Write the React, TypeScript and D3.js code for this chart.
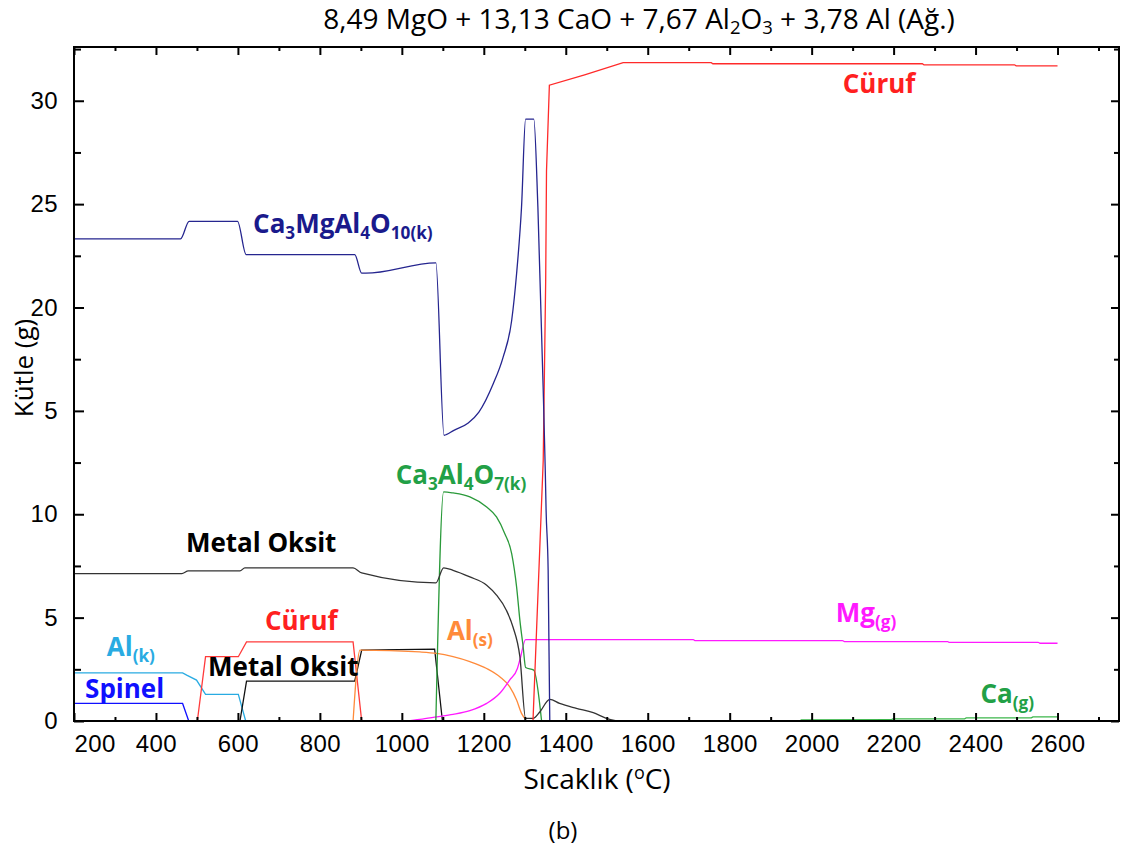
import { useEffect, useRef } from "react";
import * as d3 from "d3";

type Pt = [number, number];

// temperature (°C), mass (g)
const ca3mgal4o10: Pt[] = [
  [200, 23.32], [460, 23.32], [481, 24.17], [599, 24.17], [620, 22.56], [885, 22.56],
  [902, 21.66], [912, 21.66], [1083, 22.16], [1103, 13.82], [1127, 14.06], [1162, 14.41],
  [1188, 14.94], [1223, 16.31], [1247, 17.59], [1268, 19.37], [1280, 21.63], [1292, 24.84],
  [1302, 29.11], [1322, 29.11], [1332, 24.84], [1345, 15.99], [1350, 12.1], [1352, 10.2],
  [1357, 7.3], [1361, 0],
];
const spinel: Pt[] = [[200, 0.85], [465, 0.85], [480, 0]];
const alK: Pt[] = [[200, 2.33], [465, 2.33], [475, 2.22], [499, 1.98], [521, 1.29], [601, 1.29], [619, 0]];
const curufLow: Pt[] = [[501, 0], [521, 3.11], [601, 3.11], [621, 3.83], [881, 3.83], [902, 0]];
const curufHigh: Pt[] = [
  [1320, 0], [1345, 12.6], [1351, 21.3], [1353, 26.6], [1360, 30.75], [1446, 31.25],
  [1540, 31.84], [1755, 31.84], [1759, 31.79], [2270, 31.79], [2274, 31.74], [2495, 31.74],
  [2499, 31.69], [2600, 31.69],
];
const metalOksitHigh: Pt[] = [
  [200, 7.13], [463, 7.13], [479, 7.26], [605, 7.26], [617, 7.41], [881, 7.41], [902, 7.16],
  [1083, 6.68], [1102, 7.41], [1125, 7.29], [1166, 6.97], [1207, 6.57], [1231, 6.09],
  [1255, 5.36], [1271, 4.56], [1288, 3.11], [1302, 0.13], [1320, 0.13], [1337, 0.45],
  [1361, 1.05], [1385, 0.85], [1426, 0.61], [1467, 0.4], [1499, 0.13], [1524, 0],
];
const metalOksitLow: Pt[] = [[605, 0], [621, 1.93], [885, 1.93], [902, 3.43], [1080, 3.48], [1099, 0]];
const ca3al4o7: Pt[] = [
  [1083, 0], [1102, 11.08], [1125, 11.03], [1166, 10.84], [1207, 10.35], [1231, 9.87],
  [1251, 9.07], [1268, 8.1], [1280, 6.49], [1288, 4.88], [1296, 3.59], [1302, 2.59],
  [1322, 2.46], [1341, 0],
];
const alS: Pt[] = [
  [881, 0], [898, 3.43], [1044, 3.34], [1085, 3.27], [1125, 3.11], [1166, 2.87], [1207, 2.54],
  [1239, 2.14], [1263, 1.66], [1280, 1.01], [1292, 0.37], [1302, 0.08],
];
const mgG: Pt[] = [
  [1010, 0], [1044, 0.08], [1085, 0.2], [1125, 0.32], [1166, 0.5], [1207, 0.85], [1239, 1.34],
  [1263, 1.98], [1282, 2.54], [1288, 2.95], [1302, 3.94], [1711, 3.94], [1715, 3.89],
  [2075, 3.89], [2080, 3.84], [2332, 3.84], [2336, 3.8], [2553, 3.8], [2557, 3.76], [2600, 3.76],
];
const caG: Pt[] = [
  [1973, 0.05], [2194, 0.06], [2198, 0.1], [2373, 0.1], [2377, 0.15], [2536, 0.15],
  [2540, 0.2], [2600, 0.2],
];

const xTicks = d3.range(200, 2601, 200);
const xMinorTicks = d3.range(300, 2701, 200);
const yTicks = [0, 5, 10, 15, 20, 25, 30];
const yMinorTicks = [2.5, 7.5, 12.5, 17.5, 22.5, 27.5, 32.5];

const series = [
  { data: spinel, color: "#1010ff", smooth: false },
  { data: alK, color: "#29abe2", smooth: false },
  { data: curufLow, color: "#ff3b3b", smooth: false },
  { data: metalOksitLow, color: "#111111", smooth: false },
  { data: alS, color: "#ff8a3a", smooth: true },
  { data: mgG, color: "#ff1aff", smooth: true },
  { data: caG, color: "#3cb64b", smooth: false },
  { data: ca3al4o7, color: "#2a9a3a", smooth: true },
  { data: metalOksitHigh, color: "#333333", smooth: true },
  { data: curufHigh, color: "#ff2a2a", smooth: false },
  { data: ca3mgal4o10, color: "#25258f", smooth: true },
];

// label: parts [text, isSub], anchor temp, anchor mass
const labels = [
  { parts: [["Cüruf", false]], t: 2076, v: 30.38, color: "#ff2020" },
  { parts: [["Ca", false], ["3", true], ["MgAl", false], ["4", true], ["O", false], ["10(k)", true]], t: 637, v: 23.61, color: "#1a1a8c" },
  { parts: [["Metal Oksit", false]], t: 473, v: 8.18, color: "#000000" },
  { parts: [["Ca", false], ["3", true], ["Al", false], ["4", true], ["O", false], ["7(k)", true]], t: 985, v: 11.47, color: "#22a046" },
  { parts: [["Cüruf", false]], t: 666, v: 4.4, color: "#ff2020" },
  { parts: [["Al", false], ["(k)", true]], t: 280, v: 3.12, color: "#29abe2" },
  { parts: [["Metal Oksit", false]], t: 527, v: 2.18, color: "#000000" },
  { parts: [["Spinel", false]], t: 227, v: 1.1, color: "#1010ff" },
  { parts: [["Al", false], ["(s)", true]], t: 1110, v: 3.92, color: "#ff8a3a" },
  { parts: [["Mg", false], ["(g)", true]], t: 2059, v: 4.79, color: "#ff1aff" },
  { parts: [["Ca", false], ["(g)", true]], t: 2412, v: 0.87, color: "#22a046" },
] as { parts: [string, boolean][]; t: number; v: number; color: string }[];

const W = 1125;
const H = 855;
const left = 74, right = 1119, top = 47, bottom = 721;

function SubText({ parts, size, subDy }: { parts: [string, boolean][]; size: number; subDy: number }) {
  let shifted = false;
  return (
    <>
      {parts.map(([txt, sub], i) => {
        let dy = 0;
        if (sub && !shifted) { dy = subDy; shifted = true; }
        else if (!sub && shifted) { dy = -subDy; shifted = false; }
        return (
          <tspan key={i} dy={dy} fontSize={sub ? size * 0.66 : size}>{txt}</tspan>
        );
      })}
    </>
  );
}

export default function App() {
  const svgRef = useRef<SVGSVGElement>(null);

  const x = d3.scaleLinear().domain([200, 2750]).range([left, right]);
  const y = d3.scaleLinear().domain([0, 32.6]).range([bottom, top]);

  useEffect(() => {
    const svg = d3.select(svgRef.current);
    const font = "'Liberation Sans', Arial, sans-serif";

    const bottomAxis = d3.axisBottom(x).tickValues(xTicks).tickSize(-8).tickPadding(14).tickFormat(d3.format("d"));
    const g1 = svg.select<SVGGElement>(".x-axis").attr("transform", `translate(0,${bottom})`).call(bottomAxis);
    g1.select(".domain").remove();
    g1.selectAll("text").attr("font-size", 24).attr("letter-spacing", 0.4).attr("font-family", font).attr("fill", "#000");
    g1.selectAll<SVGTextElement, number>("text").filter((d) => d === 200).attr("text-anchor", "start").attr("x", 0);
    g1.selectAll("line").attr("stroke-width", 2);

    const bottomMinor = d3.axisBottom(x).tickValues(xMinorTicks).tickSize(-4).tickFormat(() => "");
    const g2 = svg.select<SVGGElement>(".x-minor").attr("transform", `translate(0,${bottom})`).call(bottomMinor);
    g2.select(".domain").remove();
    g2.selectAll("line").attr("stroke-width", 2);

    const topAxis = d3.axisTop(x).tickValues(xTicks).tickSize(-8).tickFormat(() => "");
    const g3 = svg.select<SVGGElement>(".x-top").attr("transform", `translate(0,${top})`).call(topAxis);
    g3.select(".domain").remove();
    g3.selectAll("line").attr("stroke-width", 2);
    const topMinor = d3.axisTop(x).tickValues(xMinorTicks).tickSize(-4).tickFormat(() => "");
    const g4 = svg.select<SVGGElement>(".x-top-minor").attr("transform", `translate(0,${top})`).call(topMinor);
    g4.select(".domain").remove();
    g4.selectAll("line").attr("stroke-width", 2);

    const leftAxis = d3.axisLeft(y).tickValues(yTicks).tickSize(-10).tickPadding(16)
      .tickFormat((d) => (d === 15 ? "5" : String(d)));
    const g5 = svg.select<SVGGElement>(".y-axis").attr("transform", `translate(${left},0)`).call(leftAxis);
    g5.select(".domain").remove();
    g5.selectAll("text").attr("font-size", 24).attr("letter-spacing", 0.4).attr("font-family", font).attr("fill", "#000");
    g5.selectAll("line").attr("stroke-width", 2);
    const leftMinor = d3.axisLeft(y).tickValues(yMinorTicks).tickSize(-7).tickFormat(() => "");
    const g6 = svg.select<SVGGElement>(".y-minor").attr("transform", `translate(${left},0)`).call(leftMinor);
    g6.select(".domain").remove();
    g6.selectAll("line").attr("stroke-width", 2);

    const rightAxis = d3.axisRight(y).tickValues(yTicks).tickSize(-8).tickFormat(() => "");
    const g7 = svg.select<SVGGElement>(".y-right").attr("transform", `translate(${right},0)`).call(rightAxis);
    g7.select(".domain").remove();
    g7.selectAll("line").attr("stroke-width", 2);
    const rightMinor = d3.axisRight(y).tickValues(yMinorTicks).tickSize(-5).tickFormat(() => "");
    const g8 = svg.select<SVGGElement>(".y-right-minor").attr("transform", `translate(${right},0)`).call(rightMinor);
    g8.select(".domain").remove();
    g8.selectAll("line").attr("stroke-width", 2);
  }, []);

  const line = d3.line<Pt>().x((d) => x(d[0])).y((d) => y(d[1]));
  const smoothLine = d3.line<Pt>().x((d) => x(d[0])).y((d) => y(d[1])).curve(d3.curveMonotoneX);
  const labelFont = "'Open Sans', 'Noto Sans', sans-serif";

  return (
    <svg ref={svgRef} width={W} height={H} style={{ position: "absolute", left: 0, top: 0, background: "#fff" }}>
      <rect x={0} y={0} width={W} height={H} fill="#fff" />
      <text x={639} y={29} textAnchor="middle" fontFamily={labelFont} fontSize={28} fill="#000">
        <SubText
          size={28}
          subDy={5}
          parts={[["8,49 MgO + 13,13 CaO + 7,67 Al", false], ["2", true], ["O", false], ["3", true], [" + 3,78 Al (Ağ.)", false]]}
        />
      </text>

      {series.map((s, i) => (
        <path key={i} d={(s.smooth ? smoothLine : line)(s.data) ?? ""} fill="none" stroke={s.color} strokeWidth={1.3} />
      ))}

      <g className="x-minor" />
      <g className="x-axis" />
      <g className="x-top" />
      <g className="x-top-minor" />
      <g className="y-minor" />
      <g className="y-axis" />
      <g className="y-right" />
      <g className="y-right-minor" />
      <rect x={left} y={top} width={right - left} height={bottom - top} fill="none" stroke="#000" strokeWidth={2} />

      {labels.map((l, i) => (
        <text key={i} x={x(l.t)} y={y(l.v)} fontFamily={labelFont} fontWeight={700} fontSize={26} fill={l.color}>
          <SubText parts={l.parts} size={26} subDy={6} />
        </text>
      ))}

      <text x={597} y={789} textAnchor="middle" fontFamily={labelFont} fontSize={28} fill="#000">
        Sıcaklık (<tspan fontSize={18} dy={-10}>o</tspan><tspan dy={10}>C)</tspan>
      </text>
      <text transform={`translate(33,${368}) rotate(-90)`} textAnchor="middle" fontFamily={labelFont} fontSize={26} fill="#000">
        Kütle (g)
      </text>
      <text x={563} y={839} textAnchor="middle" fontFamily={labelFont} fontSize={24} fill="#000">(b)</text>
    </svg>
  );
}
